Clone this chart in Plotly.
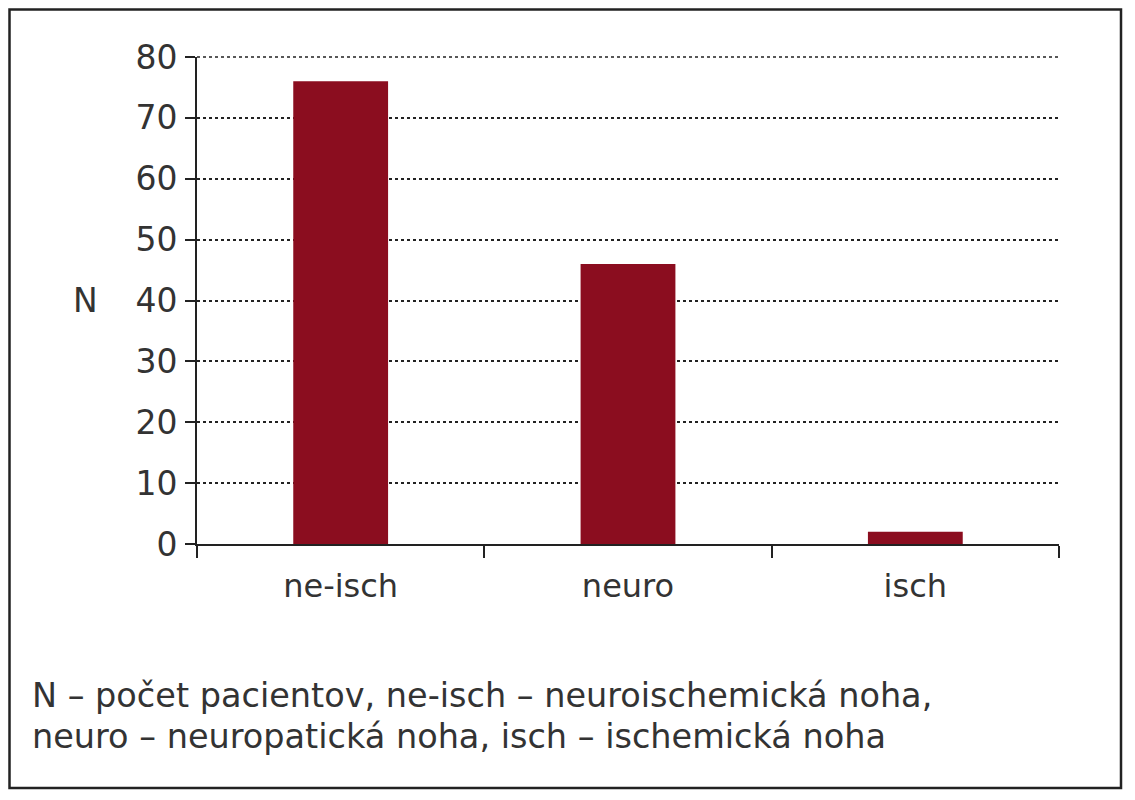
import plotly.graph_objects as go

categories = ["ne-isch", "neuro", "isch"]
values = [76, 46, 2]
y_ticks = [0, 10, 20, 30, 40, 50, 60, 70, 80]
y_label = "N"
caption_lines = [
    "N – počet pacientov, ne-isch – neuroischemická noha,",
    "neuro – neuropatická noha, isch – ischemická noha",
]

W, H = 1135, 800
OFF = 8  # page body margin
L, R, T, B = 197 - OFF, 1135 - (1059 - OFF), 57 - OFF, 800 - (544 - OFF)
pw, ph = W - L - R, H - T - B

def px(x):
    return (x - OFF - L) / pw

def py(y):
    return (H - B - (y - OFF)) / ph

FONT = "DejaVu Sans"
TXT = "#333333"
AX = "#222222"

fig = go.Figure(go.Bar(
    x=categories, y=values, marker=dict(color="#8B0D1F", line=dict(width=0)),
    width=0.33,
))

fig.update_layout(
    width=W, height=H,
    margin=dict(l=L, r=R, t=T, b=B, pad=0),
    paper_bgcolor="white", plot_bgcolor="white",
    showlegend=False,
    font=dict(family=FONT, color=TXT),
)
fig.update_xaxes(
    showline=True, linecolor=AX, linewidth=2,
    ticks="outside", tickson="boundaries", ticklen=12, tickwidth=2, tickcolor=AX,
    tickfont=dict(size=32, family=FONT, color=TXT),
    showgrid=False, ticklabelstandoff=13,
)
fig.update_yaxes(
    range=[0, 80], tickvals=y_ticks,
    showline=True, linecolor=AX, linewidth=2,
    ticks="outside", ticklen=10, tickwidth=2, tickcolor=AX,
    tickfont=dict(size=33, family=FONT, color=TXT),
    showgrid=True, gridcolor=AX, gridwidth=1.5, griddash="dot",
    zeroline=False, ticklabelstandoff=1,
)

# top gridline at 80 (plotly hides the grid line at the range edge)
fig.add_shape(
    type="line", xref="paper", yref="paper", x0=0, x1=1, y0=1, y1=1,
    line=dict(color=AX, width=1.5, dash="dot"), layer="below",
)

fig.add_annotation(
    text=y_label, xref="paper", yref="paper", x=px(85), y=py(300),
    showarrow=False, font=dict(size=33, family=FONT, color=TXT),
    xanchor="center", yanchor="middle",
)
for i, line in enumerate(caption_lines):
    fig.add_annotation(
        text=line, xref="paper", yref="paper", x=px(30), y=py(695 + 41 * i),
        showarrow=False, font=dict(size=33.5, family=FONT, color=TXT),
        xanchor="left", yanchor="middle",
    )

fig.add_shape(
    type="rect", xref="paper", yref="paper",
    x0=px(9.5), x1=px(1121), y0=py(788), y1=py(9.5),
    line=dict(color=AX, width=2.5), fillcolor="rgba(0,0,0,0)", layer="above",
)

fig.write_html("out.html")
